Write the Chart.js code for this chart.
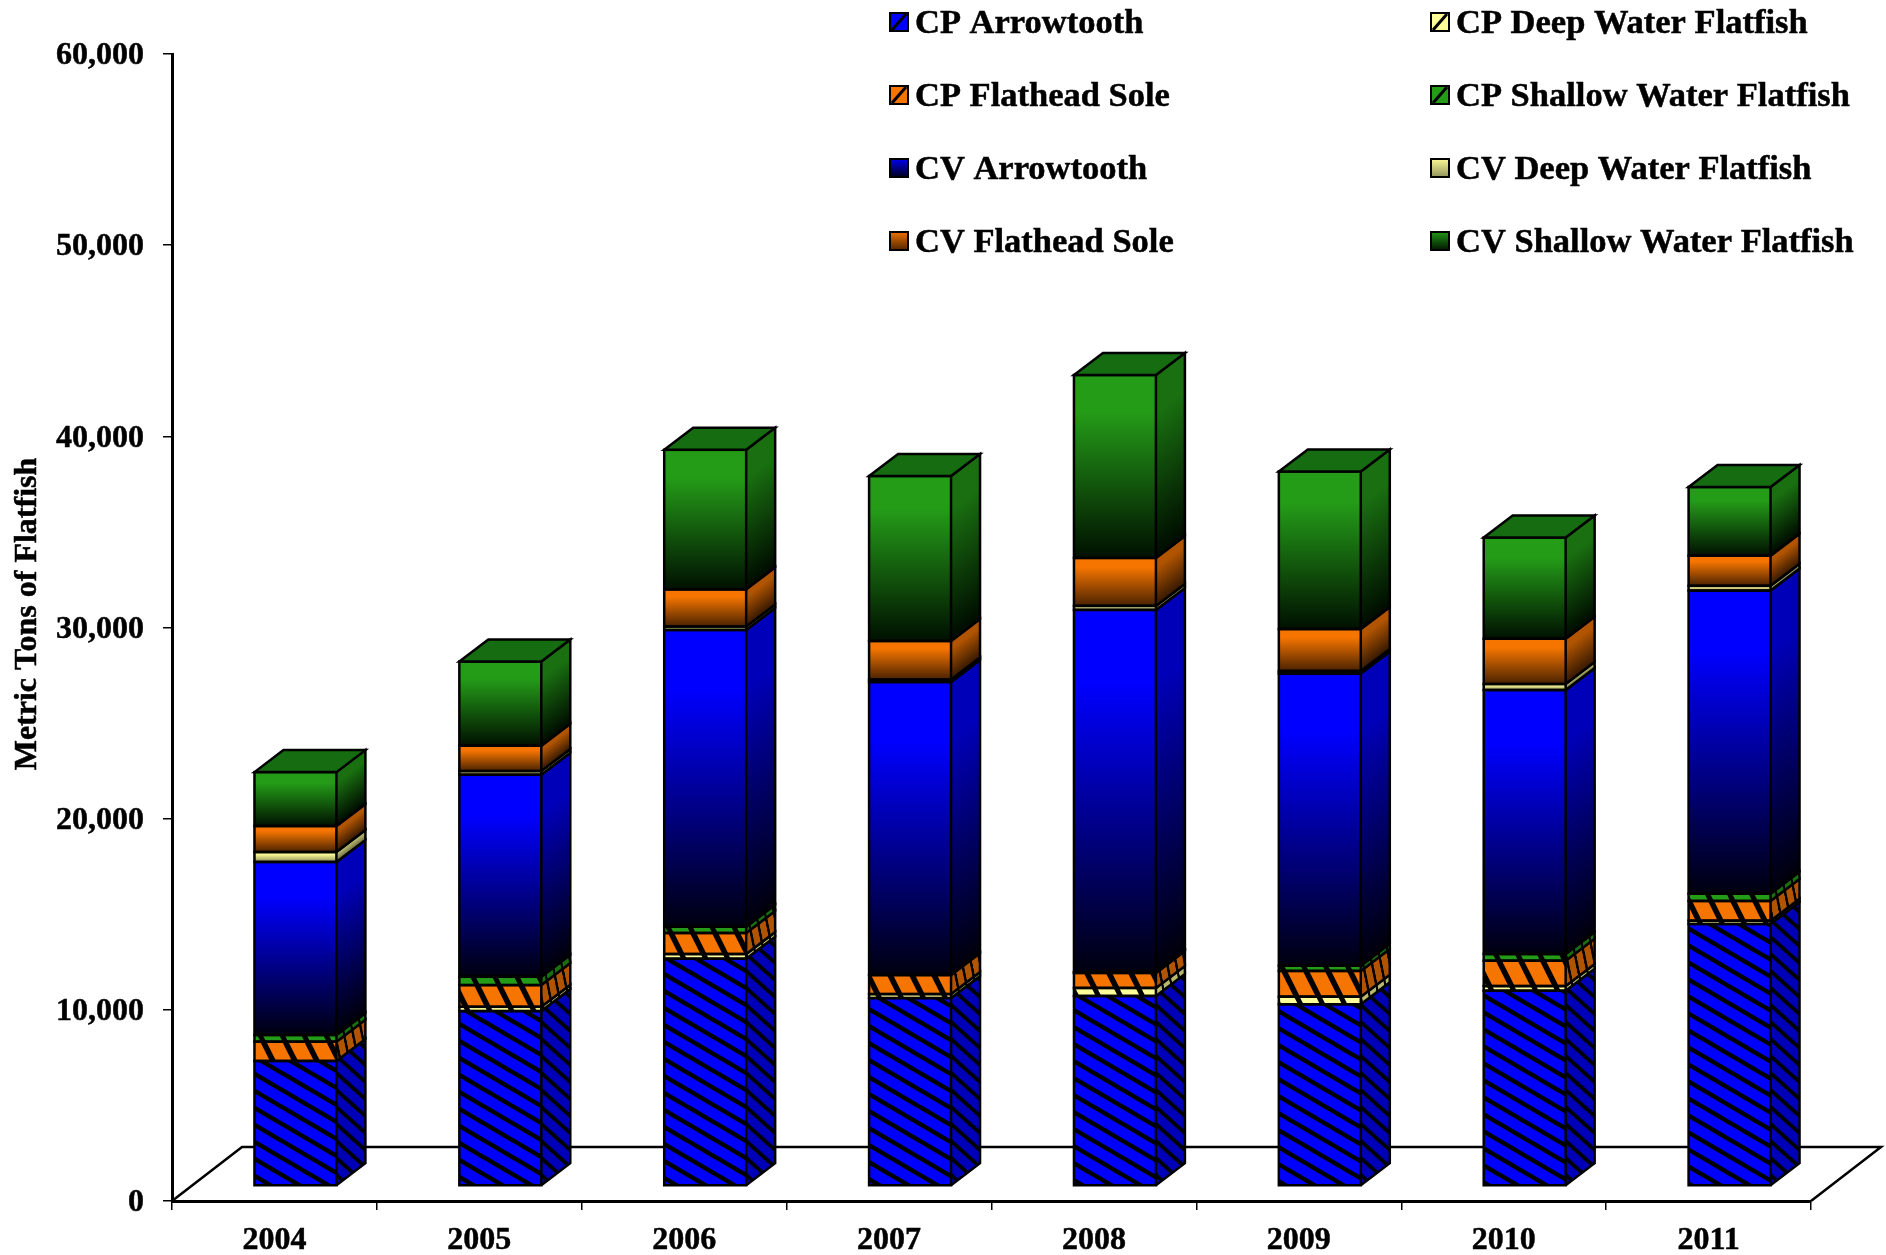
<!DOCTYPE html>
<html>
<head>
<meta charset="utf-8">
<title>Metric Tons of Flatfish</title>
<style>
    body { margin: 0; background: #fff; }
    canvas { display: block; }
</style>
<script src="https://cdn.jsdelivr.net/npm/chart.js@4"></script>
</head>
<body>
<canvas id="ChartFlatfish" width="1886" height="1255"></canvas>
<script>
// Values (metric tons), stacked from the bottom up
const categories = ['2004', '2005', '2006', '2007', '2008', '2009', '2010', '2011'];
const cpArrowtooth = [6540, 9150, 11890, 9830, 9940, 9505, 10215, 13705];
const cpDeepWater = [0, 225, 245, 210, 420, 400, 245, 175];
const cpFlathead = [1010, 1135, 1100, 995, 785, 1345, 1325, 1030];
const cpShallowWater = [350, 435, 330, 0, 50, 275, 350, 380];
const cvArrowtooth = [9050, 10570, 15520, 15330, 18940, 15280, 13810, 15855];
const cvDeepWater = [520, 190, 180, 125, 210, 135, 315, 250];
const cvFlathead = [1360, 1325, 1945, 2020, 2510, 2195, 2370, 1575];
const cvShallowWater = [2820, 4405, 7300, 8630, 9570, 8240, 5290, 3595];

const yAxisTitle = 'Metric Tons of Flatfish';
const serif = '"Liberation Serif", "Times New Roman", serif';

const BLUE = '#0000ff', YELLOW = '#ffff99', ORANGE = '#f57500', GREEN = '#249c18';
const BLUE_DARK = '#00000f', YELLOW_DARK = '#8f8f5a', ORANGE_DARK = '#4a2200', GREEN_DARK = '#001000';

// Diagonal stripes, same as the CP series in the picture
function makeStripes(color, w, h, lineWidth) {
    const tile = document.createElement('canvas');
    tile.width = w;
    tile.height = h;
    const c = tile.getContext('2d');
    c.fillStyle = color;
    c.fillRect(0, 0, w, h);
    c.strokeStyle = '#000';
    c.lineWidth = lineWidth;
    for (const off of [-w, 0, w]) {
        c.beginPath();
        c.moveTo(off - w, -h);
        c.lineTo(off + 2 * w, 2 * h);
        c.stroke();
    }
    return document.createElement('canvas').getContext('2d').createPattern(tile, 'repeat');
}

// Fades every bar segment from its colour to nearly black
function fade(color, dark) {
    return function(context) {
        if (context.type !== 'data') return color;
        const chart = context.chart;
        const y = chart.scales.y;
        let below = 0;
        for (let i = 0; i < context.datasetIndex; i++) {
            below += chart.data.datasets[i].data[context.dataIndex];
        }
        const top = y.getPixelForValue(below + context.raw);
        const bottom = y.getPixelForValue(below);
        if (!isFinite(top) || !isFinite(bottom) || top === bottom) return color;
        const g = chart.ctx.createLinearGradient(0, top, 0, bottom);
        g.addColorStop(0, color);
        g.addColorStop(0.2, color);
        g.addColorStop(1, dark);
        return g;
    };
}

const datasets = [
    { label: 'CP Arrowtooth', data: cpArrowtooth, backgroundColor: makeStripes(BLUE, 29, 17, 4.5), swatch: BLUE, hatched: true },
    { label: 'CP Deep Water Flatfish', data: cpDeepWater, backgroundColor: makeStripes(YELLOW, 22, 44, 5), swatch: YELLOW, hatched: true },
    { label: 'CP Flathead Sole', data: cpFlathead, backgroundColor: makeStripes(ORANGE, 22, 44, 5.5), swatch: ORANGE, hatched: true },
    { label: 'CP Shallow Water Flatfish', data: cpShallowWater, backgroundColor: makeStripes(GREEN, 22, 44, 5), swatch: GREEN, hatched: true },
    { label: 'CV Arrowtooth', data: cvArrowtooth, backgroundColor: fade(BLUE, BLUE_DARK), swatch: BLUE, dark: BLUE_DARK },
    { label: 'CV Deep Water Flatfish', data: cvDeepWater, backgroundColor: fade(YELLOW, YELLOW_DARK), swatch: YELLOW, dark: YELLOW_DARK },
    { label: 'CV Flathead Sole', data: cvFlathead, backgroundColor: fade(ORANGE, ORANGE_DARK), swatch: ORANGE, dark: ORANGE_DARK },
    { label: 'CV Shallow Water Flatfish', data: cvShallowWater, backgroundColor: fade(GREEN, GREEN_DARK), swatch: GREEN, dark: GREEN_DARK }
];

// Depth of the picture: floor, how far the bars sit in, and how deep they are
const FLOOR_X = 70, FLOOR_Y = 54;
const INSET_X = 21, INSET_Y = 15;
const DEPTH_X = 29, DEPTH_Y = 22;

const box3d = {
    id: 'box3d',
    beforeDatasetsDraw(chart) {
        const ctx = chart.ctx;
        const a = chart.chartArea;
        // Floor
        ctx.save();
        ctx.strokeStyle = '#000';
        ctx.lineWidth = 2.5;
        ctx.beginPath();
        ctx.moveTo(a.left, a.bottom);
        ctx.lineTo(a.left + FLOOR_X, a.bottom - FLOOR_Y);
        ctx.lineTo(a.right + FLOOR_X, a.bottom - FLOOR_Y);
        ctx.lineTo(a.right, a.bottom);
        ctx.stroke();
        ctx.restore();
        // Bars stand a little way in from the front edge of the floor
        ctx.save();
        ctx.translate(INSET_X, -INSET_Y);
    },
    afterDatasetsDraw(chart) {
        const ctx = chart.ctx;
        const last = chart.data.datasets.length - 1;
        ctx.lineJoin = 'miter';
        chart.data.datasets.forEach((ds, i) => {
            chart.getDatasetMeta(i).data.forEach((bar, j) => {
                if (!ds.data[j]) return;
                const p = bar.getProps(['x', 'y', 'base', 'width'], true);
                const left = p.x - p.width / 2, right = p.x + p.width / 2;

                // Side face, the front fill squeezed and sheared
                ctx.save();
                ctx.transform(DEPTH_X / p.width, -DEPTH_Y / p.width, 0, 1, right, 0);
                ctx.fillStyle = bar.options.backgroundColor;
                ctx.fillRect(0, p.y, p.width, p.base - p.y);
                ctx.fillStyle = 'rgba(0,0,0,0.28)';
                ctx.fillRect(0, p.y, p.width, p.base - p.y);
                ctx.restore();

                ctx.strokeStyle = '#000';
                ctx.lineWidth = 2.5;
                ctx.strokeRect(left, p.y, p.width, p.base - p.y);
                ctx.beginPath();
                ctx.moveTo(right, p.base);
                ctx.lineTo(right + DEPTH_X, p.base - DEPTH_Y);
                ctx.lineTo(right + DEPTH_X, p.y - DEPTH_Y);
                ctx.lineTo(right, p.y);
                ctx.stroke();

                if (i === last) {
                    ctx.beginPath();
                    ctx.moveTo(left, p.y);
                    ctx.lineTo(left + DEPTH_X, p.y - DEPTH_Y);
                    ctx.lineTo(right + DEPTH_X, p.y - DEPTH_Y);
                    ctx.lineTo(right, p.y);
                    ctx.closePath();
                    ctx.fillStyle = '#166c10';
                    ctx.fill();
                    ctx.stroke();
                }
            });
        });
        ctx.restore();
    }
};

// Two column legend and the axis title, placed where the picture has them
const legendAndTitle = {
    id: 'legendAndTitle',
    afterDraw(chart) {
        const ctx = chart.ctx;
        ctx.save();
        ctx.font = 'bold 34.5px ' + serif;
        ctx.textBaseline = 'middle';
        ctx.textAlign = 'left';
        chart.data.datasets.forEach((ds, i) => {
            const x = i % 2 === 0 ? 890 : 1431;
            const y = 22 + Math.floor(i / 2) * 73;
            let fill = ds.swatch;
            if (!ds.hatched) {
                fill = ctx.createLinearGradient(0, y - 10, 0, y + 10);
                fill.addColorStop(0, ds.swatch);
                fill.addColorStop(1, ds.dark);
            }
            ctx.fillStyle = fill;
            ctx.fillRect(x, y - 9, 18, 18);
            ctx.strokeStyle = '#000';
            ctx.lineWidth = 2;
            ctx.strokeRect(x, y - 9, 18, 18);
            if (ds.hatched) {
                ctx.lineWidth = 3;
                ctx.beginPath();
                ctx.moveTo(x + 2, y + 8);
                ctx.lineTo(x + 16, y - 8);
                ctx.stroke();
            }
            ctx.fillStyle = '#000';
            ctx.lineWidth = 0.5;
            ctx.fillText(ds.label, x + 25, y + 2);
            ctx.strokeText(ds.label, x + 25, y + 2);
        });

        ctx.translate(28, 614);
        ctx.rotate(-Math.PI / 2);
        ctx.font = 'bold 32px ' + serif;
        ctx.textAlign = 'center';
        ctx.fillText(yAxisTitle, 0, 0);
        ctx.strokeText(yAxisTitle, 0, 0);
        ctx.restore();
    }
};

new Chart(document.getElementById('ChartFlatfish'), {
    type: 'bar',
    data: { labels: categories, datasets: datasets },
    plugins: [box3d, legendAndTitle],
    options: {
        responsive: false,
        animation: false,
        layout: { autoPadding: false, padding: { top: 54, right: 75, bottom: 0, left: 0 } },
        datasets: { bar: { barPercentage: 0.4, categoryPercentage: 1, borderWidth: 0, clip: false } },
        plugins: { legend: { display: false }, title: { display: false }, tooltip: { enabled: false } },
        scales: {
            x: {
                stacked: true,
                afterFit(scale) { scale.height = 54; },
                border: { color: '#000', width: 3 },
                grid: { drawOnChartArea: false, tickColor: '#000', tickLength: 9, lineWidth: 1.5 },
                ticks: {
                    color: '#000',
                    padding: 12,
                    maxRotation: 0,
                    autoSkip: false,
                    textStrokeColor: '#000',
                    textStrokeWidth: 0.5,
                    font: { family: serif, size: 32, weight: 'bold' }
                }
            },
            y: {
                stacked: true,
                min: 0,
                max: 60000,
                afterFit(scale) { scale.width = 172; },
                // Tick labels sit a touch lower than Chart.js centres them
                afterUpdate(scale) {
                    const drawLabels = scale.drawLabels;
                    scale.drawLabels = function(area) {
                        scale.ctx.save();
                        scale.ctx.translate(0, 1);
                        drawLabels.call(scale, area);
                        scale.ctx.restore();
                    };
                },
                border: { color: '#000', width: 3 },
                grid: { drawOnChartArea: false, tickColor: '#000', tickLength: 9, lineWidth: 1.5 },
                ticks: {
                    color: '#000',
                    padding: 19,
                    stepSize: 10000,
                    textStrokeColor: '#000',
                    textStrokeWidth: 0.5,
                    callback: (value) => value.toLocaleString('en-US'),
                    font: { family: serif, size: 32, weight: 'bold' }
                }
            }
        }
    }
});
</script>
</body>
</html>
